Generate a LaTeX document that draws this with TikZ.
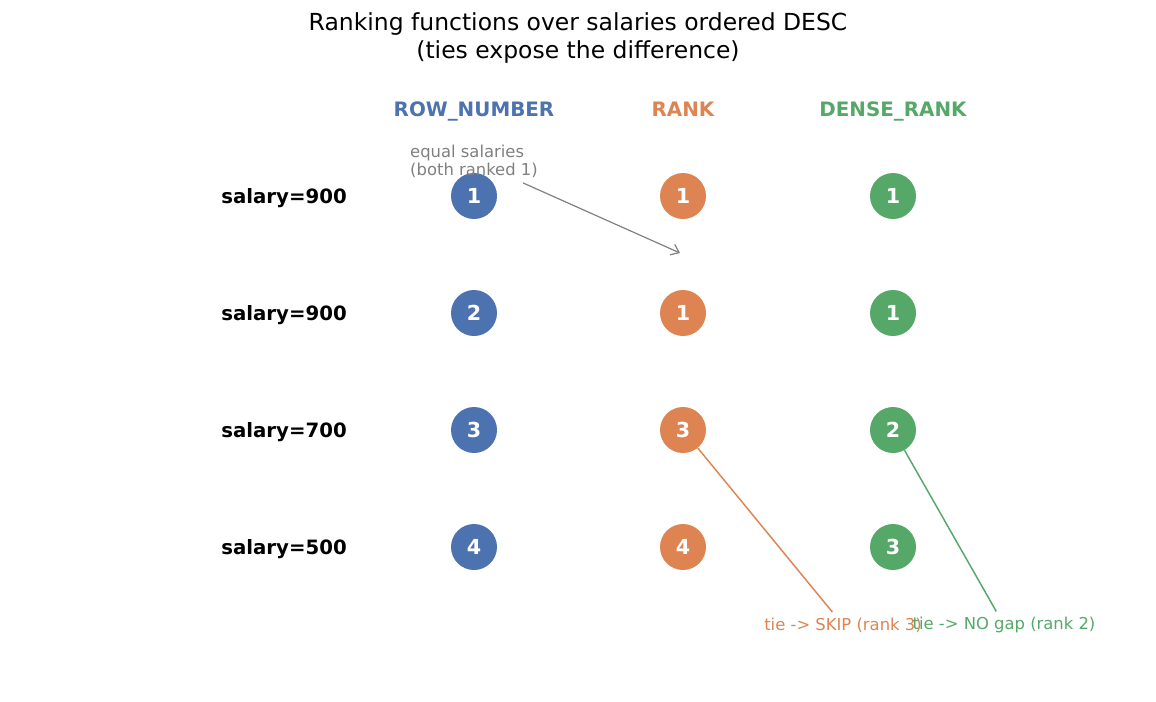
\documentclass[tikz,border=0pt]{standalone}
\usepackage{fontspec}
\setmainfont{DejaVu Sans}
\usetikzlibrary{positioning, arrows.meta}
\definecolor{rowblue}{HTML}{4C72B0}
\definecolor{rankorange}{HTML}{DD8452}
\definecolor{densegreen}{HTML}{55A868}
\definecolor{notegray}{HTML}{808080}
\begin{document}
\begin{tikzpicture}[x=0.75pt, y=-0.75pt]

    % Define styles
    \tikzset{
        ball/.style = {circle, minimum size=34.5pt, inner sep=0pt, text=white, font=\fontsize{15.5}{17}\selectfont\bfseries},
        rowball/.style = {ball, fill=rowblue},
        rankball/.style = {ball, fill=rankorange},
        denseball/.style = {ball, fill=densegreen},
        header/.style = {anchor=base, font=\fontsize{14.9}{17}\selectfont\bfseries},
        salary/.style = {anchor=east, inner sep=0pt, font=\fontsize{14.8}{17}\selectfont\bfseries},
        note/.style = {font=\fontsize{12.3}{13.5}\selectfont, inner sep=4pt},
        arrow/.style = {line width=0.9pt, -{Straight Barb[length=5.5pt, width=8.5pt]}}
    }

    \useasboundingbox (0,0) rectangle (1156,701);

    % Title
    \node (title) [align=center, font=\fontsize{17.6}{20.3}\selectfont] at (578,38) {Ranking functions over salaries ordered DESC\\(ties expose the difference)};

    % Headers
    \node (hrow) [header, text=rowblue] at (474,116) {ROW\_NUMBER};
    \node (hrank) [header, text=rankorange] at (683,116) {RANK};
    \node (hdense) [header, text=densegreen] at (893,116) {DENSE\_RANK};

    % Salaries
    \node (s1) [salary] at (347,198) {salary=900};
    \node (s2) [salary] at (347,315) {salary=900};
    \node (s3) [salary] at (347,432) {salary=700};
    \node (s4) [salary] at (347,549) {salary=500};

    % Nodes
    \node (row1) [rowball] at (474,196) {1};
    \node (row2) [rowball] at (474,313) {2};
    \node (row3) [rowball] at (474,430) {3};
    \node (row4) [rowball] at (474,547) {4};
    \node (rank1) [rankball] at (683,196) {1};
    \node (rank2) [rankball] at (683,313) {1};
    \node (rank3) [rankball] at (683,430) {3};
    \node (rank4) [rankball] at (683,547) {4};
    \node (dense1) [denseball] at (893,196) {1};
    \node (dense2) [denseball] at (893,313) {1};
    \node (dense3) [denseball] at (893,430) {2};
    \node (dense4) [denseball] at (893,547) {3};

    % Notes
    \node (equal) [note, text=notegray, align=left] at (474,161) {equal salaries\\(both ranked 1)};
    \coordinate (tie) at (680,253);
    \node (skip) [note, text=rankorange] at (843,625) {tie -> SKIP (rank 3)};
    \node (nogap) [note, text=densegreen] at (1004,625) {tie -> NO gap (rank 2)};

    % Arrows
    \draw [arrow, draw=notegray] (equal) -- (tie);
    \draw [line width=1.1pt, draw=rankorange] (rank3) -- (skip);
    \draw [line width=1.1pt, draw=densegreen] (dense3) -- (nogap);
\end{tikzpicture}
\end{document}
